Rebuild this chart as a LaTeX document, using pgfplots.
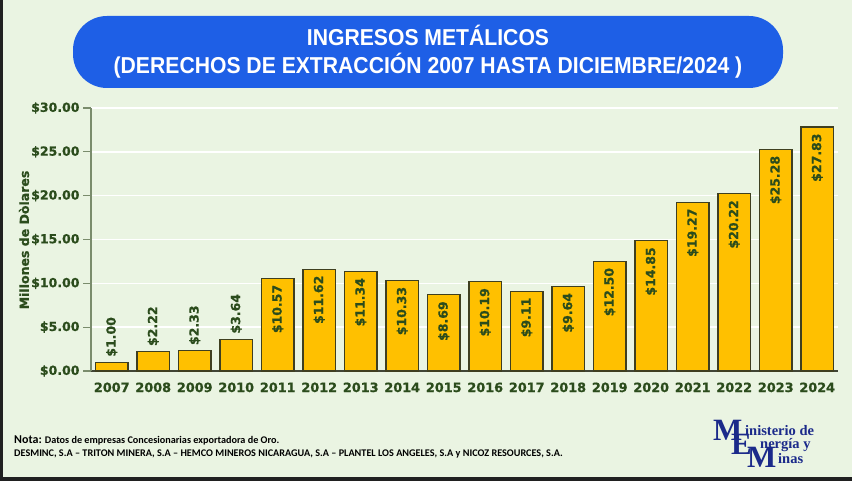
\documentclass[border=0pt]{standalone}
\usepackage{fontspec}
\setmainfont{DejaVu Sans}[BoldFeatures={FakeBold=0.8}]
\newfontfamily\titlefont[FakeStretch=0.92]{Liberation Sans}
\newfontfamily\notefont{Carlito}
\newfontfamily\logofont{Liberation Serif}
\usepackage{pgfplots}
\pgfplotsset{compat=1.18}
\definecolor{bgc}{HTML}{EAF4E2}
\definecolor{frame}{HTML}{202020}
\definecolor{titleblue}{HTML}{1E5FE6}
\definecolor{labgreen}{HTML}{2B4C1C}
\definecolor{barfill}{HTML}{FFC000}
\definecolor{barline}{HTML}{3F3F20}
\definecolor{axgray}{HTML}{7A8C6C}
\definecolor{axdark}{HTML}{404535}
\definecolor{logoblue}{HTML}{1B2A8A}
\begin{document}
\begin{tikzpicture}
\fill[bgc] (0pt,0pt) rectangle (852pt,481pt);
\fill[frame] (0pt,0pt) rectangle (2.5pt,481pt);
\fill[frame] (0pt,0pt) rectangle (852pt,4pt);
\fill[titleblue, rounded corners=34pt] (73pt,393pt) rectangle (783pt,465pt);
\node[text=white, font=\titlefont\bfseries\fontsize{23}{25}\selectfont] at (428pt,446pt) {INGRESOS METÁLICOS};
\node[text=white, font=\titlefont\bfseries\fontsize{23}{25}\selectfont] at (428pt,415pt) {(DERECHOS DE EXTRACCIÓN 2007 HASTA DICIEMBRE/2024 )};
\node[rotate=90, text=labgreen, font=\bfseries\fontsize{12.5}{14}\selectfont] at (24pt,241pt) {Millones de Dòlares};
\begin{axis}[
  at={(91pt,110pt)}, anchor=south west,
  scale only axis, width=747pt, height=263pt,
  ybar, bar width=32.5pt, bar shift=0pt,
  xmin=-0.5, xmax=17.5, ymin=0, ymax=30,
  axis x line*=bottom, axis y line*=left,
  x axis line style={-, draw=axdark, line width=1.2pt},
  y axis line style={-, draw=axgray, line width=1.5pt},
  xtick={0,...,17},
  xticklabels={2007,2008,2009,2010,2011,2012,2013,2014,2015,2016,2017,2018,2019,2020,2021,2022,2023,2024},
  x tick style={draw=none},
  ytick={0,5,...,30},
  y tick style={draw=axgray, line width=1.2pt},
  tick align=outside, major tick length=8pt,
  ymajorgrids, grid style={white, line width=1.5pt},
  /pgf/number format/assume math mode=true,
  yticklabel={\$\pgfmathprintnumber[fixed,fixed zerofill,precision=2]{\tick}},
  yticklabel style={font=\bfseries\fontsize{12.5}{14}\selectfont, text=labgreen},
  xticklabel style={font=\bfseries\fontsize{12.8}{14}\selectfont, text=labgreen},
  nodes near coords={\$\pgfmathprintnumber[fixed,fixed zerofill,precision=2]{\pgfplotspointmeta}},
  clip=false,
]
\addplot[fill=barfill, draw=barline, line width=1.1pt,
  nodes near coords style={rotate=90, anchor=west, inner xsep=5pt, inner ysep=0pt, text=labgreen, font=\bfseries\fontsize{12.5}{14}\selectfont}]
  coordinates {(0,1.00) (1,2.22) (2,2.33) (3,3.64)};
\addplot[fill=barfill, draw=barline, line width=1.1pt,
  nodes near coords style={rotate=90, anchor=east, inner xsep=6pt, inner ysep=0pt, text=labgreen, font=\bfseries\fontsize{12.5}{14}\selectfont}]
  coordinates {(4,10.57) (5,11.62) (6,11.34) (7,10.33) (8,8.69) (9,10.19) (10,9.11) (11,9.64) (12,12.50) (13,14.85) (14,19.27) (15,20.22) (16,25.28) (17,27.83)};
\end{axis}
\node[anchor=base west, inner sep=0pt, font=\notefont\bfseries\fontsize{10.2}{12}\selectfont] at (14pt,37.5pt) {{\fontsize{12}{14}\selectfont Nota:} Datos de empresas Concesionarias exportadora de Oro.};
\node[anchor=base west, inner sep=0pt, font=\notefont\bfseries\fontsize{10.2}{12}\selectfont] at (14pt,24.5pt) {DESMINC, S.A – TRITON MINERA, S.A – HEMCO MINEROS NICARAGUA, S.A – PLANTEL LOS ANGELES, S.A y NICOZ RESOURCES, S.A.};
% logo
\node[anchor=base west, inner sep=0pt, text=logoblue, font=\logofont\bfseries\fontsize{31}{31}\selectfont] at (713pt,40pt) {M};
\node[anchor=base west, inner sep=0pt, text=logoblue, font=\logofont\bfseries\fontsize{14.5}{15}\selectfont] at (745pt,45pt) {inisterio de};
\node[anchor=base west, inner sep=0pt, text=logoblue, font=\logofont\bfseries\fontsize{31}{31}\selectfont] at (731pt,26pt) {E};
\node[anchor=base west, inner sep=0pt, text=logoblue, font=\logofont\bfseries\fontsize{14.5}{15}\selectfont] at (760pt,32pt) {nergía y};
\node[anchor=base west, inner sep=0pt, text=logoblue, font=\logofont\bfseries\fontsize{31}{31}\selectfont] at (747pt,13pt) {M};
\node[anchor=base west, inner sep=0pt, text=logoblue, font=\logofont\bfseries\fontsize{14.5}{15}\selectfont] at (778pt,17pt) {inas};
\end{tikzpicture}
\end{document}
